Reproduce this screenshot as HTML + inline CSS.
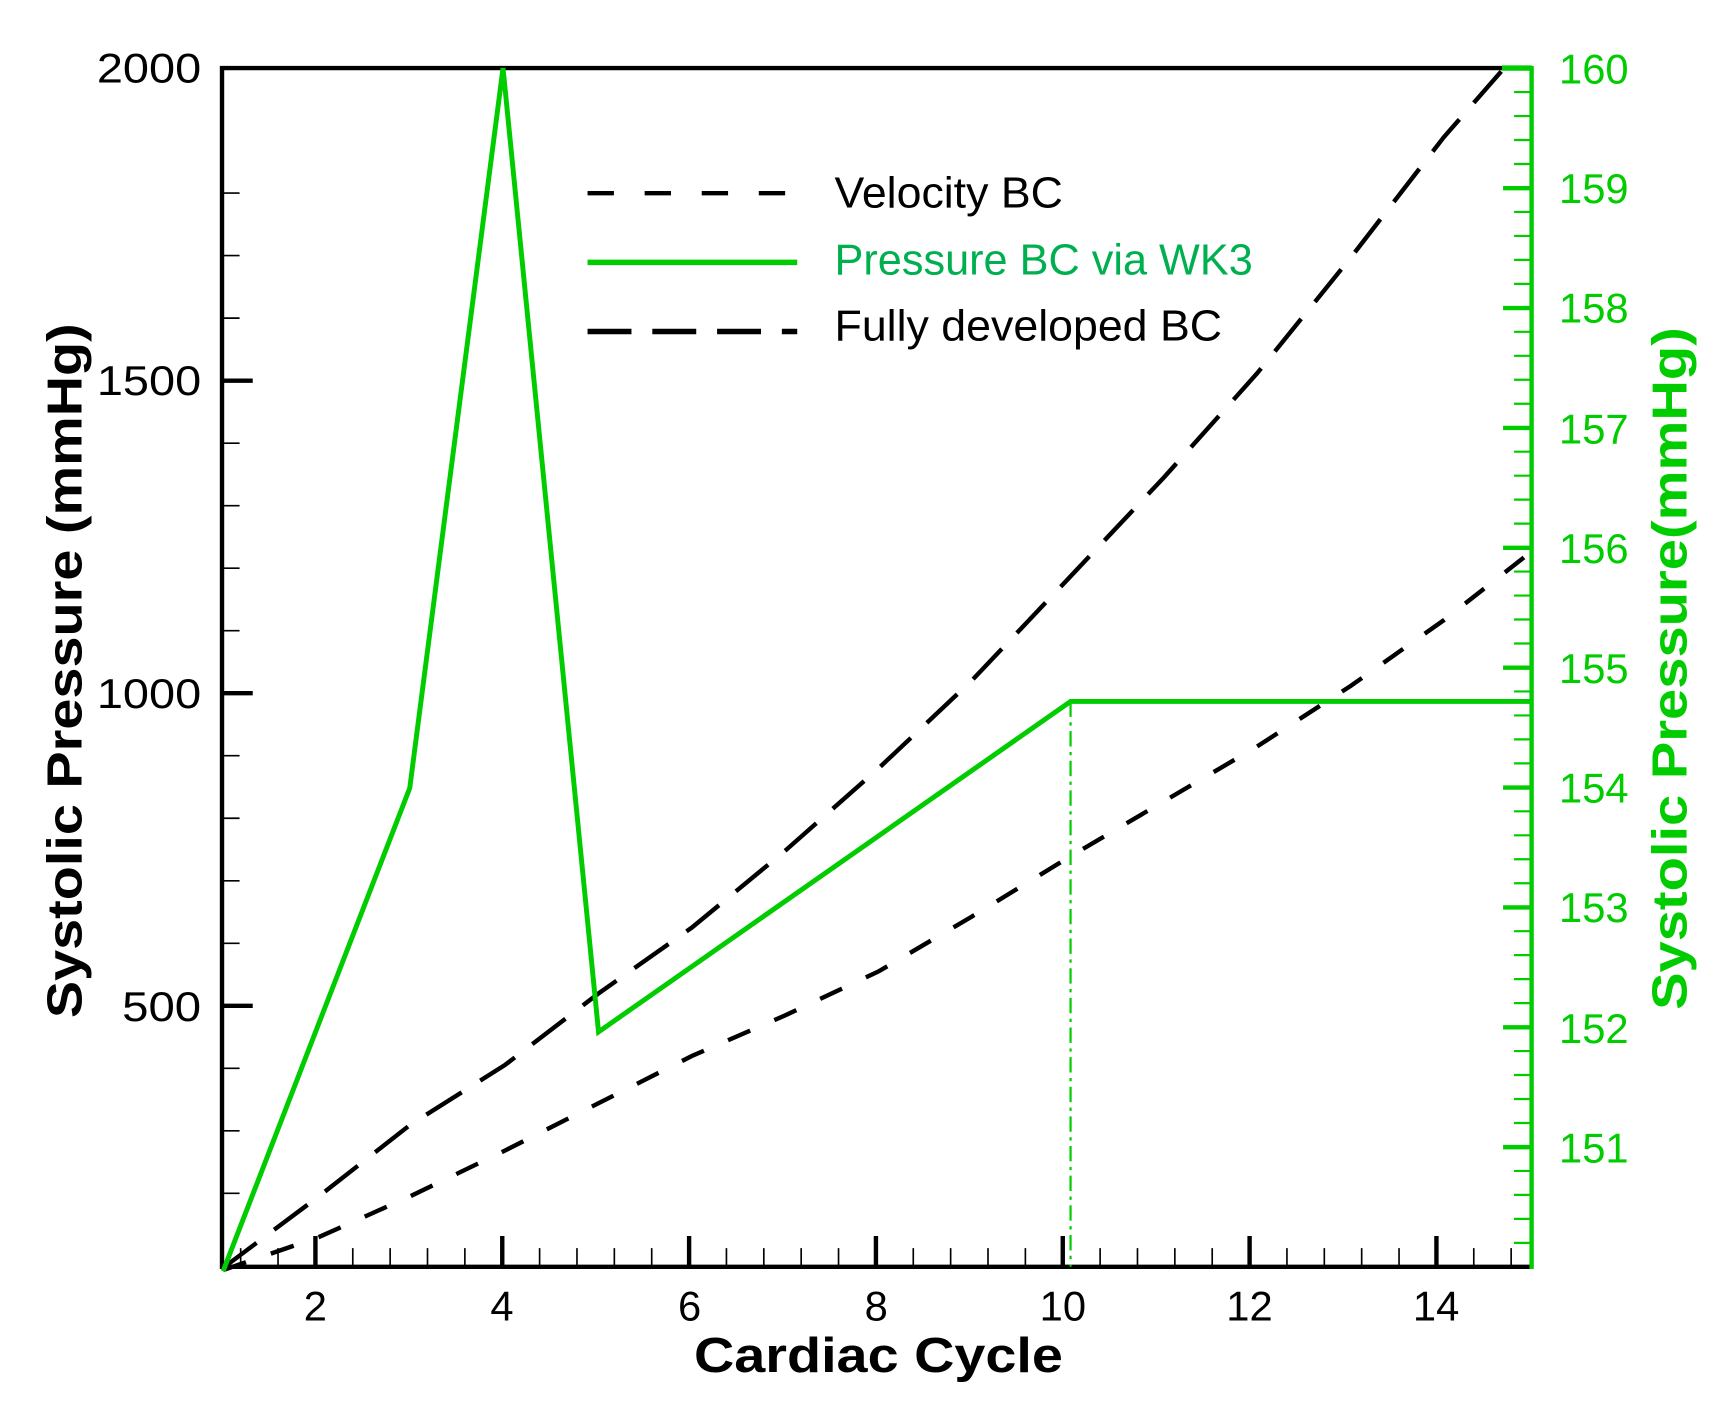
<!DOCTYPE html>
<html><head><meta charset="utf-8"><style>html,body{margin:0;padding:0;background:#fff}svg{display:block}</style></head>
<body>
<svg width="1713" height="1404" viewBox="0 0 1560 1279" xmlns="http://www.w3.org/2000/svg" font-family="'Liberation Sans', sans-serif">
<rect width="1560" height="1279" fill="#fff"/>
<!-- ticks -->
<path fill="none" stroke="#000" stroke-width="1.5" d="M219,1154v-17m34.04,17v-17m34.04,17v-17m34.04,17v-17m34.04,17v-17m34.04,17v-17m34.04,17v-17m34.04,17v-17m34.04,17v-17m34.04,17v-17m34.04,17v-17m34.04,17v-17m34.04,17v-17m34.04,17v-17m34.04,17v-17m34.04,17v-17m34.04,17v-17m34.04,17v-17m34.04,17v-17m34.04,17v-17m34.04,17v-17m34.04,17v-17m34.04,17v-17m34.04,17v-17m34.04,17v-17m34.04,17v-17m34.04,17v-17m34.04,17v-17m34.04,17v-17m34.04,17v-17m34.04,17v-17m34.04,17v-17m34.04,17v-17m34.04,17v-17m34.04,17v-17"/>
<path fill="none" stroke="#000" stroke-width="4" d="M287.1,1154v-28M457.3,1154v-28M627.5,1154v-28M797.7,1154v-28M967.9,1154v-28M1138.1,1154v-28M1308.3,1154v-28M202,916.3h28M202,631.5h28M202,346.8h28"/>
<path fill="none" stroke="#000" stroke-width="1.5" d="M202,1087.1h16m-16,-56.95h16m-16,-56.95h16m-16,-56.95h16m-16,-56.95h16m-16,-56.95h16m-16,-56.95h16m-16,-56.95h16m-16,-56.95h16m-16,-56.95h16m-16,-56.95h16m-16,-56.95h16m-16,-56.95h16m-16,-56.95h16m-16,-56.95h16m-16,-56.95h16m-16,-56.95h16"/>
<path fill="none" stroke="#00cc00" stroke-width="2" d="M1395,1132.2h-16m16,-21.84h-16m16,-21.84h-16m16,-21.84h-16m16,-21.84h-16m16,-21.84h-16m16,-21.84h-16m16,-21.84h-16m16,-21.84h-16m16,-21.84h-16m16,-21.84h-16m16,-21.84h-16m16,-21.84h-16m16,-21.84h-16m16,-21.84h-16m16,-21.84h-16m16,-21.84h-16m16,-21.84h-16m16,-21.84h-16m16,-21.84h-16m16,-21.84h-16m16,-21.84h-16m16,-21.84h-16m16,-21.84h-16m16,-21.84h-16m16,-21.84h-16m16,-21.84h-16m16,-21.84h-16m16,-21.84h-16m16,-21.84h-16m16,-21.84h-16m16,-21.84h-16m16,-21.84h-16m16,-21.84h-16m16,-21.84h-16m16,-21.84h-16m16,-21.84h-16m16,-21.84h-16m16,-21.84h-16m16,-21.84h-16m16,-21.84h-16m16,-21.84h-16m16,-21.84h-16m16,-21.84h-16m16,-21.84h-16m16,-21.84h-16m16,-21.84h-16m16,-21.84h-16m16,-21.84h-16"/>
<path fill="none" stroke="#00cc00" stroke-width="4" d="M1395,1045h-26M1395,935.8h-26M1395,826.6h-26M1395,717.4h-26M1395,608.2h-26M1395,499h-26M1395,389.8h-26M1395,280.6h-26M1395,171.4h-26"/>
<!-- frame -->
<path fill="none" stroke="#000" stroke-width="4" d="M1395,62H202V1154H1395"/>
<line x1="1395" y1="60" x2="1395" y2="1156" stroke="#00cc00" stroke-width="4"/>
<!-- series -->
<polyline fill="none" stroke="#000" stroke-width="4" stroke-dasharray="22,24" points="203,1157 290,1127 373,1090 460,1048 545,1005 630,962 715,925 800,885 885,835 975,780 1060,730 1145,680 1230,625 1315,565 1398,500"/>
<polyline fill="none" stroke="#000" stroke-width="4" stroke-dasharray="38,20" points="203,1155 290,1090 373,1025 460,970 545,905 630,845 715,775 800,700 885,620 975,525 1060,435 1145,340 1230,235 1315,125 1370,62"/>
<line x1="975" y1="639" x2="975" y2="1154" stroke="#00cc00" stroke-width="2" stroke-dasharray="14,5,3,5"/>
<polyline fill="none" stroke="#00cc00" stroke-width="4.5" stroke-linejoin="miter" points="203,1158 373,718 458,62 545,940 975,639 1395,639"/>
<line x1="1368" y1="62" x2="1395" y2="62" stroke="#00cc00" stroke-width="5"/>
<!-- legend -->
<line x1="535" y1="176" x2="726" y2="176" stroke="#000" stroke-width="4" stroke-dasharray="24,28"/>
<line x1="535" y1="239" x2="726" y2="239" stroke="#00cc00" stroke-width="5"/>
<line x1="535" y1="302" x2="726" y2="302" stroke="#000" stroke-width="5" stroke-dasharray="40,19"/>
<text x="760" y="189" font-size="40" fill="#000" textLength="208" lengthAdjust="spacingAndGlyphs">Velocity BC</text>
<text x="760" y="250" font-size="40" fill="#00b050" textLength="381" lengthAdjust="spacingAndGlyphs">Pressure BC via WK3</text>
<text x="760" y="310" font-size="40" fill="#000" textLength="353" lengthAdjust="spacingAndGlyphs">Fully developed BC</text>
<!-- left labels -->
<g font-size="38" fill="#000" text-anchor="end">
<text x="183" y="75" textLength="95" lengthAdjust="spacingAndGlyphs">2000</text>
<text x="183" y="360" textLength="95" lengthAdjust="spacingAndGlyphs">1500</text>
<text x="183" y="645" textLength="95" lengthAdjust="spacingAndGlyphs">1000</text>
<text x="183" y="930" textLength="72" lengthAdjust="spacingAndGlyphs">500</text>
</g>
<g font-size="38" fill="#00cc00">
<text x="1420" y="76">160</text><text x="1420" y="185">159</text><text x="1420" y="294">158</text><text x="1420" y="404">157</text><text x="1420" y="513">156</text><text x="1420" y="622">155</text><text x="1420" y="731">154</text><text x="1420" y="840">153</text><text x="1420" y="950">152</text><text x="1420" y="1059">151</text>
</g>
<g font-size="38" fill="#000" text-anchor="middle">
<text x="287" y="1203">2</text><text x="457" y="1203">4</text><text x="628" y="1203">6</text><text x="798" y="1203">8</text><text x="968" y="1203">10</text><text x="1138" y="1203">12</text><text x="1308" y="1203">14</text>
</g>
<text x="800" y="1250" font-size="45" font-weight="bold" text-anchor="middle" fill="#000" textLength="336" lengthAdjust="spacingAndGlyphs">Cardiac Cycle</text>
<text transform="translate(74,611) rotate(-90)" font-size="45" font-weight="bold" text-anchor="middle" fill="#000" textLength="633" lengthAdjust="spacingAndGlyphs">Systolic Pressure (mmHg)</text>
<text transform="translate(1536,609) rotate(-90)" font-size="45" font-weight="bold" text-anchor="middle" fill="#00cc00" textLength="622" lengthAdjust="spacingAndGlyphs">Systolic Pressure(mmHg)</text>
</svg>
</body></html>
